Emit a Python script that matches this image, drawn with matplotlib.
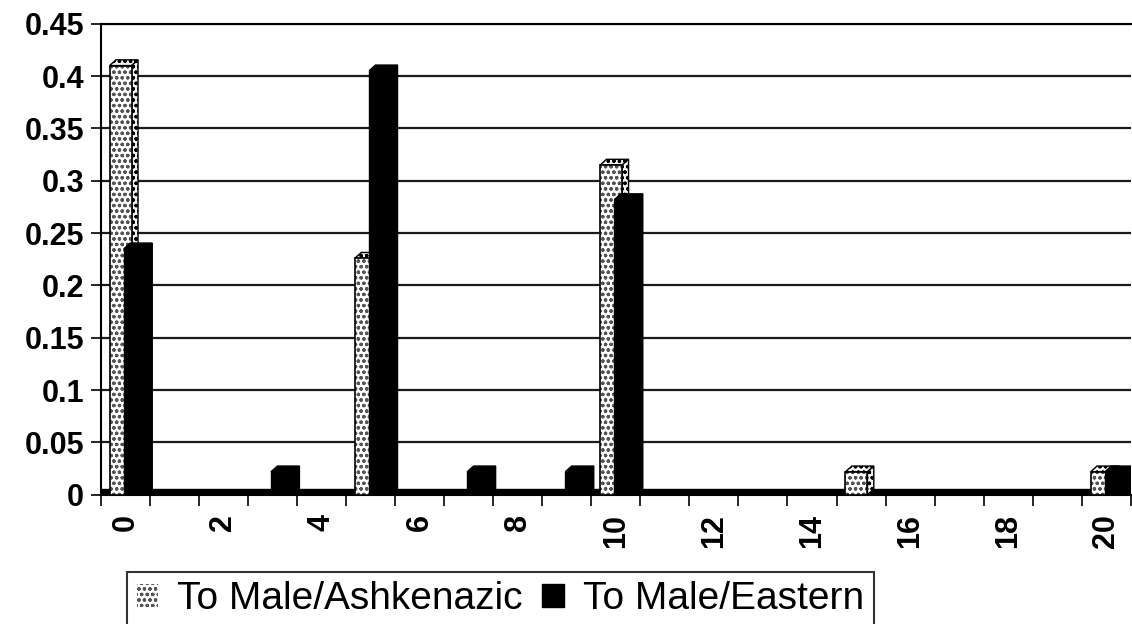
import matplotlib.pyplot as plt
from matplotlib.patches import Polygon
import numpy as np

plt.rcParams["font.family"] = ["Liberation Sans", "DejaVu Sans"]
plt.rcParams["hatch.linewidth"] = 0.9

categories = list(range(21))
ashkenazic = [0.41, 0, 0, 0, 0, 0.226, 0, 0, 0, 0, 0.315, 0, 0, 0, 0, 0.022, 0, 0, 0, 0, 0.022]
eastern = [0.235, 0, 0, 0.022, 0, 0.405, 0, 0.022, 0, 0.022, 0.282, 0, 0, 0, 0, 0, 0, 0, 0, 0, 0.022]
tick_labels = [str(c) if c % 2 == 0 else "" for c in categories]
y_ticks = [0, 0.05, 0.1, 0.15, 0.2, 0.25, 0.3, 0.35, 0.4, 0.45]
y_labels = ["0", "0.05", "0.1", "0.15", "0.2", "0.25", "0.3", "0.35", "0.4", "0.45"]

fig = plt.figure(figsize=(11.32, 6.24), dpi=100)
ax = fig.add_axes([0.089, 0.207, 0.91, 0.755])

x = np.arange(len(categories))
width = 0.45
depth_x, depth_y = 0.13, 0.0055


def add_depth(bars, face, hatch, z):
    # fake 3D cap and side, like the old spreadsheet columns
    for bar in bars:
        h = bar.get_height()
        if h <= 0:
            continue
        x0 = bar.get_x()
        x1 = x0 + bar.get_width()
        cap = Polygon([(x0, h), (x0 + depth_x, h + depth_y), (x1 + depth_x, h + depth_y), (x1, h)],
                      closed=True, facecolor=face, edgecolor="black", hatch=hatch, lw=1.0, zorder=z)
        side = Polygon([(x1, h), (x1 + depth_x, h + depth_y), (x1 + depth_x, depth_y), (x1, 0)],
                       closed=True, facecolor=face, edgecolor="black", hatch=hatch, lw=1.0, zorder=z)
        ax.add_patch(cap)
        ax.add_patch(side)


light = ax.bar(x - 0.095, ashkenazic, width, color="white", edgecolor="#555555",
               hatch="ooo", linewidth=0, zorder=3, label="To Male/Ashkenazic")
ax.bar(x - 0.095, ashkenazic, width, fill=False, edgecolor="black", linewidth=1.2, zorder=3.1)
add_depth(light, "#f2f2f2", "ooo", 2.9)

dark = ax.bar(x + 0.195, eastern, width, color="black", edgecolor="black",
              linewidth=1.0, zorder=5, label="To Male/Eastern")
add_depth(dark, "black", None, 4.9)

# 3D floor strip
ax.axhspan(0, 0.006, color="black", zorder=2)

ax.set_xlim(-0.5, 20.5)
ax.set_ylim(0, 0.45)
ax.set_xticks(x)
ax.set_xticklabels(tick_labels, rotation=90, fontsize=22, fontweight="bold")
ax.set_xticks(np.arange(-0.5, 21, 1), minor=True)
ax.tick_params(axis="x", which="major", length=0, pad=14)
ax.tick_params(axis="x", which="minor", length=8, width=1.2, direction="out")
ax.set_yticks(y_ticks)
ax.set_yticklabels(y_labels, fontsize=22, fontweight="bold")
ax.tick_params(axis="y", length=7, width=1.2, pad=5)

ax.yaxis.grid(True, color="#1a1a1a", linewidth=1.6, zorder=1)
ax.set_axisbelow(True)
ax.spines["right"].set_visible(False)
for side in ["left", "bottom", "top"]:
    ax.spines[side].set_linewidth(1.5)

leg = fig.legend(handles=[light, dark], loc="upper left", bbox_to_anchor=(0.112, 0.084),
                 borderaxespad=0, ncol=2, fontsize=28, frameon=True, fancybox=False,
                 edgecolor="black", handlelength=0.55, handleheight=0.55, handletextpad=0.5,
                 columnspacing=0.5, borderpad=0.25)
leg.get_frame().set_linewidth(1.5)

fig.savefig("out.png", dpi=100)
